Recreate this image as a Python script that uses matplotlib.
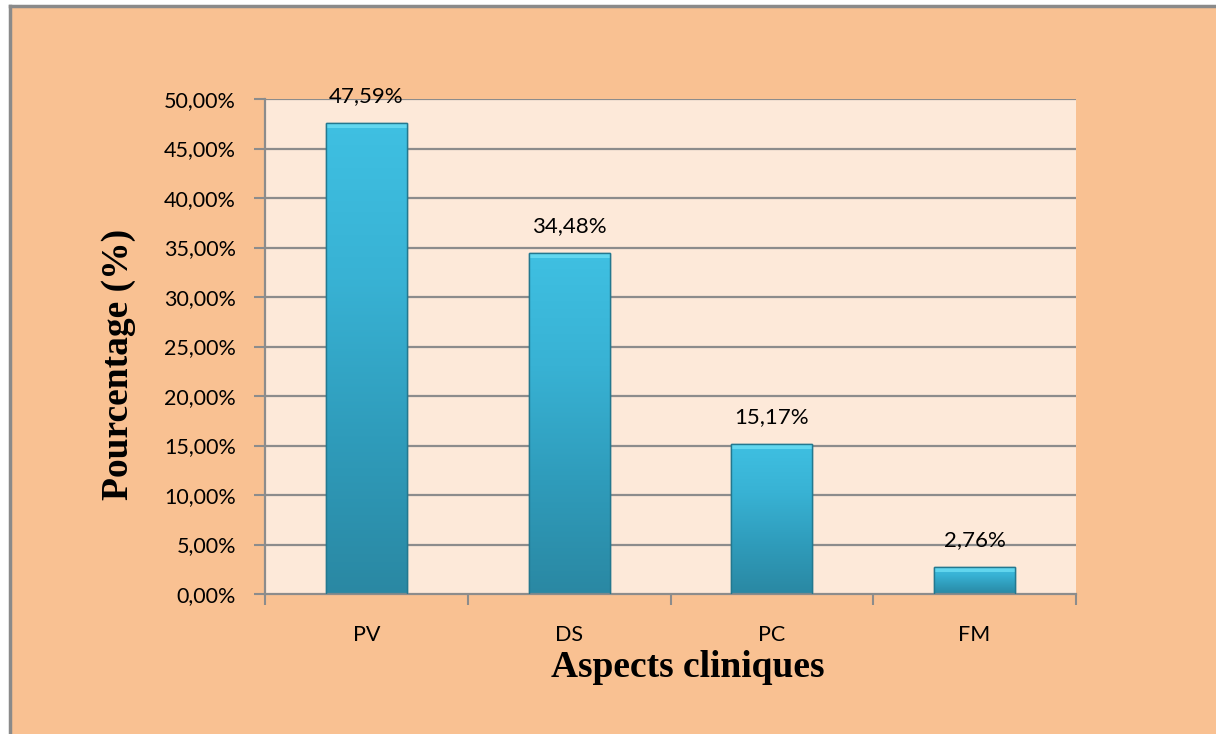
import matplotlib
matplotlib.use("Agg")
import matplotlib.pyplot as plt
import numpy as np
from matplotlib.patches import Rectangle
from matplotlib.colors import LinearSegmentedColormap
from matplotlib.ticker import FixedLocator, FuncFormatter

categories = ["PV", "DS", "PC", "FM"]
values = [47.59, 34.48, 15.17, 2.76]
y_ticks = [0, 5, 10, 15, 20, 25, 30, 35, 40, 45, 50]

outer_bg = "#F9C192"
plot_bg = "#FDE9D9"
grid_col = "#8C8C8C"
W, H = 1216, 734

fig = plt.figure(figsize=(W / 100, H / 100), dpi=100)
fig.patch.set_facecolor("white")

# chart frame (white margin on the left and top, gray edge)
frame = Rectangle((9 / W, 0), 1, 1 - 5 / H, transform=fig.transFigure,
                  facecolor=outer_bg, edgecolor="none", zorder=-10)
fig.patches.append(frame)
fig.add_artist(plt.Line2D([9.5 / W, 9.5 / W], [0, 1 - 5.5 / H],
                          transform=fig.transFigure, color="#8A8A8A", lw=2.5))
fig.add_artist(plt.Line2D([9.5 / W, 1], [1 - 5.5 / H, 1 - 5.5 / H],
                          transform=fig.transFigure, color="#8A8A8A", lw=2.5))

ax = fig.add_axes([265 / W, 1 - 594 / H, (1076 - 265) / W, (594 - 99) / H])
ax.set_facecolor(plot_bg)

x = np.arange(len(categories))
width = 0.4
ax.set_xlim(-0.5, len(categories) - 0.5)
ax.set_ylim(0, 50)

for t in y_ticks[1:]:
    ax.axhline(t, color=grid_col, lw=1.6, zorder=1)

cmap = LinearSegmentedColormap.from_list(
    "bar", ["#2A88A3", "#2F9CBB", "#38B2D4", "#3FC0E2"])
grad = np.linspace(0, 1, 256).reshape(-1, 1)

bars = ax.bar(x, values, width=width, color="#36ABCC", edgecolor="#23788F",
              linewidth=1.0, zorder=2)
for b in bars:
    x0, y0 = b.get_x(), b.get_y()
    w, h = b.get_width(), b.get_height()
    im = ax.imshow(grad, extent=(x0, x0 + w, y0, y0 + h), origin="lower",
                   cmap=cmap, aspect="auto", zorder=2.5, interpolation="bicubic")
    im.set_clip_path(b)
    # bevelled top edge
    bevel = min(0.55, h * 0.25)
    ax.add_patch(Rectangle((x0, y0 + h - bevel), w, bevel, facecolor="#6FE0F5",
                           edgecolor="none", alpha=0.75, zorder=3))
    ax.add_patch(Rectangle((x0, y0), w, h, facecolor="none",
                           edgecolor="#23788F", lw=1.0, zorder=3.5))

for xi, v in zip(x, values):
    ax.text(xi, v + 1.7, f"{v:.2f}%".replace(".", ","), ha="center", va="bottom",
            fontsize=16, family="Lato", color="black", zorder=4)

ax.yaxis.set_major_locator(FixedLocator(y_ticks))
ax.yaxis.set_major_formatter(FuncFormatter(lambda v, p: f"{v:.2f}%".replace(".", ",")))
ax.set_xticks(x)
ax.set_xticklabels(categories)
ax.set_xticks(np.arange(-0.5, len(categories)), minor=True)
ax.tick_params(axis="x", which="major", length=0, pad=22, labelsize=15.5)
ax.tick_params(axis="x", which="minor", length=8, width=1.5, color=grid_col,
               direction="out")
ax.tick_params(axis="y", length=8, width=1.5, color=grid_col, direction="out",
               labelsize=15.5, pad=13)
for lab in ax.get_xticklabels() + ax.get_yticklabels():
    lab.set_family("Lato")

for s in ["top", "right"]:
    ax.spines[s].set_visible(False)
ax.spines["left"].set_color(grid_col)
ax.spines["left"].set_linewidth(1.6)
ax.spines["bottom"].set_color(grid_col)
ax.spines["bottom"].set_linewidth(1.6)

fig.text(119 / W, 1 - 364 / H, "Pourcentage (%)", rotation=90, ha="center",
         va="center", family="Liberation Serif", fontweight="bold", fontsize=27)
fig.text(688 / W, 1 - 677 / H, "Aspects cliniques", ha="center", va="baseline",
         family="Liberation Serif", fontweight="bold", fontsize=27)

fig.savefig("out.png", dpi=100, facecolor=fig.get_facecolor())
